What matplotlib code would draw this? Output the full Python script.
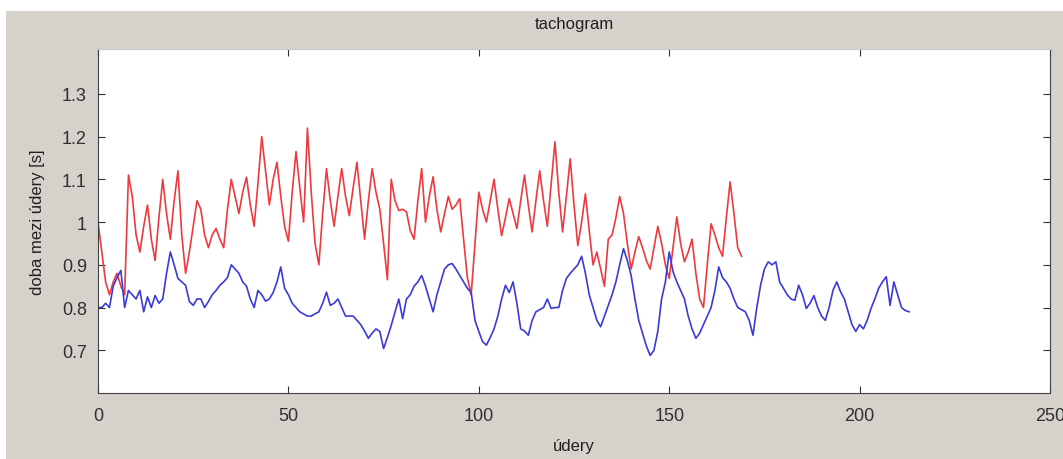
import numpy as np
import matplotlib
matplotlib.use("Agg")
import matplotlib.pyplot as plt
from matplotlib.patches import Rectangle

# RR intervals [s]
red_rr = [
    1.00, 0.93, 0.86, 0.83, 0.86, 0.88, 0.85, 0.83, 1.11, 1.06,
    0.97, 0.93, 0.99, 1.04, 0.96, 0.91, 1.01, 1.10, 1.02, 0.96,
    1.05, 1.12, 0.97, 0.88, 0.93, 0.99, 1.05, 1.03, 0.97, 0.94,
    0.97, 0.985, 0.96, 0.94, 1.03, 1.10, 1.06, 1.02, 1.07, 1.105,
    1.04, 0.99, 1.09, 1.20, 1.12, 1.04, 1.10, 1.14, 1.06, 0.99,
    0.955, 1.07, 1.165, 1.08, 1.00, 1.22, 1.07, 0.95, 0.90, 1.02,
    1.125, 1.05, 0.99, 1.06, 1.125, 1.06, 1.015, 1.08, 1.14, 1.05,
    0.96, 1.05, 1.125, 1.07, 1.03, 0.95, 0.865, 1.10, 1.05, 1.027,
    1.03, 1.024, 0.98, 0.96, 1.05, 1.125, 1.00, 1.06, 1.106, 1.03,
    0.977, 1.02, 1.06, 1.03, 1.04, 1.055, 0.96, 0.87, 0.83, 0.95,
    1.07, 1.03, 1.00, 1.05, 1.10, 1.03, 0.968, 1.01, 1.055, 1.02,
    0.985, 1.05, 1.11, 1.04, 0.977, 1.05, 1.12, 1.05, 0.99, 1.09,
    1.188, 1.07, 0.977, 1.06, 1.148, 1.04, 0.945, 1.00, 1.066, 0.98,
    0.90, 0.93, 0.89, 0.85, 0.96, 0.97, 1.01, 1.06, 1.02, 0.95,
    0.89, 0.93, 0.966, 0.94, 0.91, 0.89, 0.94, 0.99, 0.95, 0.90,
    0.868, 0.94, 1.012, 0.95, 0.907, 0.93, 0.96, 0.88, 0.82, 0.80,
    0.90, 0.996, 0.97, 0.94, 0.92, 1.01, 1.094, 1.02, 0.94, 0.92,
]

blue_rr = [
    0.80, 0.80, 0.81, 0.80, 0.85, 0.87, 0.887, 0.80, 0.84, 0.83,
    0.82, 0.84, 0.79, 0.825, 0.80, 0.828, 0.81, 0.82, 0.88, 0.93,
    0.90, 0.868, 0.86, 0.852, 0.814, 0.805, 0.82, 0.82, 0.80, 0.814,
    0.83, 0.84, 0.852, 0.86, 0.87, 0.90, 0.89, 0.88, 0.86, 0.85,
    0.82, 0.80, 0.84, 0.83, 0.815, 0.82, 0.835, 0.86, 0.895, 0.845,
    0.83, 0.81, 0.80, 0.79, 0.785, 0.78, 0.78, 0.785, 0.79, 0.81,
    0.836, 0.805, 0.81, 0.82, 0.80, 0.78, 0.78, 0.78, 0.77, 0.76,
    0.745, 0.728, 0.74, 0.75, 0.744, 0.704, 0.73, 0.758, 0.79, 0.82,
    0.774, 0.82, 0.83, 0.85, 0.86, 0.875, 0.85, 0.82, 0.79, 0.83,
    0.86, 0.89, 0.90, 0.903, 0.89, 0.875, 0.86, 0.845, 0.835, 0.77,
    0.744, 0.72, 0.712, 0.73, 0.75, 0.78, 0.82, 0.852, 0.835, 0.86,
    0.81, 0.75, 0.745, 0.735, 0.77, 0.79, 0.795, 0.80, 0.82, 0.798,
    0.80, 0.80, 0.84, 0.868, 0.88, 0.89, 0.90, 0.92, 0.88, 0.83,
    0.80, 0.77, 0.755, 0.78, 0.805, 0.83, 0.86, 0.90, 0.938, 0.91,
    0.875, 0.82, 0.77, 0.74, 0.71, 0.688, 0.70, 0.744, 0.82, 0.86,
    0.93, 0.884, 0.86, 0.84, 0.82, 0.78, 0.75, 0.728, 0.74, 0.76,
    0.78, 0.80, 0.84, 0.895, 0.87, 0.86, 0.845, 0.82, 0.80, 0.795,
    0.79, 0.77, 0.735, 0.80, 0.852, 0.89, 0.907, 0.90, 0.907, 0.86,
    0.845, 0.83, 0.82, 0.817, 0.852, 0.83, 0.798, 0.81, 0.828, 0.80,
    0.78, 0.77, 0.80, 0.84, 0.86, 0.837, 0.82, 0.79, 0.76, 0.744,
    0.76, 0.75, 0.77, 0.798, 0.82, 0.845, 0.86, 0.872, 0.805, 0.86,
    0.83, 0.80, 0.793, 0.79,
]

x_ticks = [0, 50, 100, 150, 200, 250]
y_ticks = [0.7, 0.8, 0.9, 1.0, 1.1, 1.2, 1.3]
y_tick_labels = ['0.7', '0.8', '0.9', '1', '1.1', '1.2', '1.3']

BG = '#d5d2cb'
plt.rcParams['font.family'] = ['Liberation Sans', 'DejaVu Sans']

fig = plt.figure(figsize=(10.63, 4.6), dpi=100, facecolor='white')
# grey window area (thin white border on top/left as in the screenshot)
fig.patches.append(Rectangle((6 / 1063, 0), 1, 1 - 12 / 460,
                             transform=fig.transFigure, facecolor=BG,
                             edgecolor='none', zorder=-10))

ax = fig.add_axes([98 / 1063, 1 - 394 / 460, 952 / 1063, 344 / 460])
ax.set_facecolor('white')

ax.plot(np.arange(len(red_rr)), red_rr, color='#ec3a3e', lw=1.2)
ax.plot(np.arange(len(blue_rr)), blue_rr, color='#3a3ad8', lw=1.2)

ax.set_xlim(0, 250)
ax.set_ylim(0.6, 1.405)
ax.set_xticks(x_ticks)
ax.set_yticks(y_ticks)
ax.set_yticklabels(y_tick_labels)
ax.tick_params(direction='in', length=5, colors='#303030', labelsize=13,
               top=True, right=True)
ax.tick_params(axis='x', pad=10)
ax.tick_params(axis='y', pad=8)
for side in ['left', 'bottom', 'right']:
    ax.spines[side].set_color('#404040')
ax.spines['top'].set_color('#c8c8c8')

ax.set_title('tachogram', fontsize=12, color='#202020', pad=15)
ax.set_xlabel('údery', fontsize=12, color='#202020', labelpad=10)
ax.set_ylabel('doba mezi údery [s]', fontsize=12, color='#202020', labelpad=12)

fig.savefig('out.png', dpi=100, facecolor=fig.get_facecolor())
